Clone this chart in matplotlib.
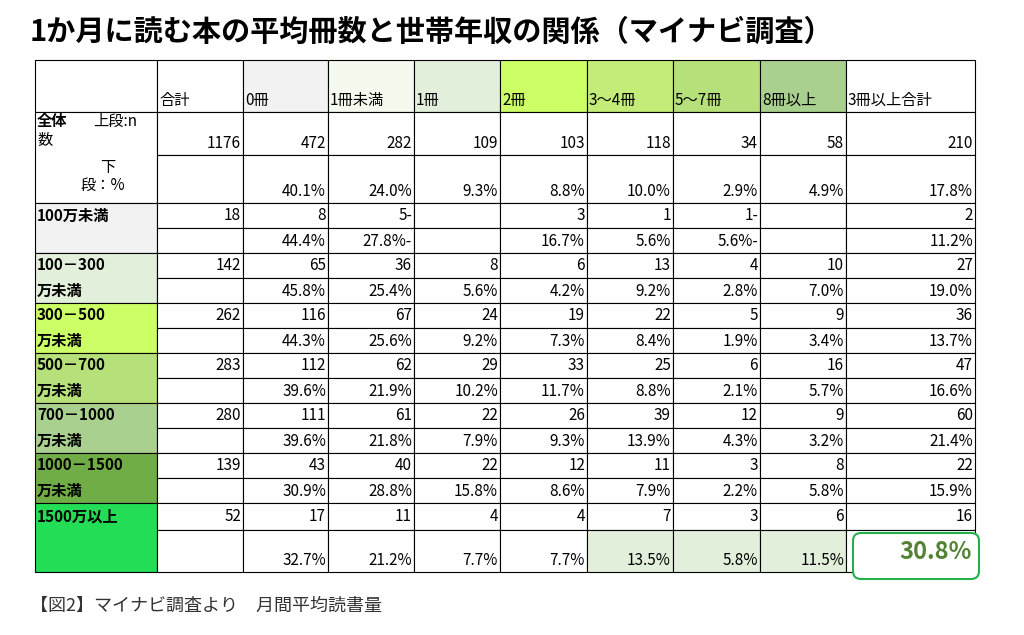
import matplotlib.pyplot as plt
from matplotlib.patches import Rectangle, FancyBboxPatch

plt.rcParams['font.family'] = 'Noto Sans CJK JP'

title = '1か月に読む本の平均冊数と世帯年収の関係（マイナビ調査）'
caption = '【図2】マイナビ調査より　月間平均読書量'
columns = ['合計', '0冊', '1冊未満', '1冊', '2冊', '3〜4冊', '5〜7冊', '8冊以上', '3冊以上合計']
groups = ['100万未満', '100－300\n万未満', '300－500\n万未満', '500－700\n万未満',
          '700－1000\n万未満', '1000－1500\n万未満', '1500万以上']
total_n = ['1176', '472', '282', '109', '103', '118', '34', '58', '210']
total_pct = ['', '40.1%', '24.0%', '9.3%', '8.8%', '10.0%', '2.9%', '4.9%', '17.8%']
counts = [
    ['18', '8', '5-', '', '3', '1', '1-', '', '2'],
    ['142', '65', '36', '8', '6', '13', '4', '10', '27'],
    ['262', '116', '67', '24', '19', '22', '5', '9', '36'],
    ['283', '112', '62', '29', '33', '25', '6', '16', '47'],
    ['280', '111', '61', '22', '26', '39', '12', '9', '60'],
    ['139', '43', '40', '22', '12', '11', '3', '8', '22'],
    ['52', '17', '11', '4', '4', '7', '3', '6', '16'],
]
pcts = [
    ['', '44.4%', '27.8%-', '', '16.7%', '5.6%', '5.6%-', '', '11.2%'],
    ['', '45.8%', '25.4%', '5.6%', '4.2%', '9.2%', '2.8%', '7.0%', '19.0%'],
    ['', '44.3%', '25.6%', '9.2%', '7.3%', '8.4%', '1.9%', '3.4%', '13.7%'],
    ['', '39.6%', '21.9%', '10.2%', '11.7%', '8.8%', '2.1%', '5.7%', '16.6%'],
    ['', '39.6%', '21.8%', '7.9%', '9.3%', '13.9%', '4.3%', '3.2%', '21.4%'],
    ['', '30.9%', '28.8%', '15.8%', '8.6%', '7.9%', '2.2%', '5.8%', '15.9%'],
    ['', '32.7%', '21.2%', '7.7%', '7.7%', '13.5%', '5.8%', '11.5%', '30.8%'],
]
header_colors = ['white', '#f2f2f2', '#f4faee', '#e2efda', '#ccff66', '#c4ec78', '#b6e07a', '#a9d08e', 'white']
group_colors = ['#f2f2f2', '#e2efda', '#ccff66', '#b6e07a', '#a9d08e', '#70ad47', '#22dd55']

fig = plt.figure(figsize=(10.24, 6.35), dpi=100)
ax = fig.add_axes([0, 0, 1, 1])
ax.set_xlim(0, 1024)
ax.set_ylim(635, 0)
ax.axis('off')

xs = [35, 157, 243, 328, 414, 500, 587, 673, 760, 846, 975]
ys = [60, 112, 155, 203, 228, 253, 278, 303, 328, 353, 378, 403, 428, 453, 478, 503, 530, 572]
fs = 11

def cell(x0, x1, y0, y1, color='white'):
    ax.add_patch(Rectangle((x0, y0), x1 - x0, y1 - y0, facecolor=color, edgecolor='black', lw=0.8))

ax.text(30, 32, title, fontsize=21, fontweight='bold', va='center')
ax.text(30, 606, caption, fontsize=13, va='center', color='#333333')

# header
cell(xs[0], xs[1], ys[0], ys[1])
for j, c in enumerate(columns):
    cell(xs[j + 1], xs[j + 2], ys[0], ys[1], header_colors[j])
    ax.text(xs[j + 1] + 2, ys[1] - 3, c, fontsize=fs, va='bottom')

# total rows
cell(xs[0], xs[1], ys[1], ys[3])
ax.text(xs[0] + 2, ys[1] + 1, '全体', fontsize=fs, va='top', fontweight='bold')
ax.text(xs[0] + 58, ys[1] + 1, '上段:n', fontsize=fs, va='top')
ax.text(xs[0] + 2, ys[1] + 20, '数', fontsize=fs, va='top')
ax.text(xs[0] + 65, ys[2] + 4, '下', fontsize=fs, va='top')
ax.text(xs[0] + 45, ys[2] + 22, '段：%', fontsize=fs, va='top')
for j in range(9):
    cell(xs[j + 1], xs[j + 2], ys[1], ys[2])
    cell(xs[j + 1], xs[j + 2], ys[2], ys[3])
    ax.text(xs[j + 2] - 2, ys[2] - 3, total_n[j], fontsize=fs, ha='right', va='bottom')
    ax.text(xs[j + 2] - 2, ys[3] - 3, total_pct[j], fontsize=fs, ha='right', va='bottom')

highlight = {(6, 5), (6, 6), (6, 7)}
for i, g in enumerate(groups):
    y0, y1, y2 = ys[3 + 2 * i], ys[4 + 2 * i], ys[5 + 2 * i]
    cell(xs[0], xs[1], y0, y2, group_colors[i])
    lines = g.split('\n')
    ax.text(xs[0] + 2, (y0 + y1) / 2, lines[0], fontsize=fs, fontweight='bold', va='center')
    if len(lines) > 1:
        ax.text(xs[0] + 2, (y1 + y2) / 2, lines[1], fontsize=fs, fontweight='bold', va='center')
    for j in range(9):
        col = '#e2efda' if (i, j) in highlight else 'white'
        cell(xs[j + 1], xs[j + 2], y0, y1)
        cell(xs[j + 1], xs[j + 2], y1, y2, col)
        ax.text(xs[j + 2] - 2, (y0 + y1) / 2, counts[i][j], fontsize=fs, ha='right', va='center')
        if i == 6 and j == 8:
            continue
        ax.text(xs[j + 2] - 2, y2 - 3, pcts[i][j], fontsize=fs, ha='right', va='bottom')

# highlighted final cell
ax.add_patch(FancyBboxPatch((853, 533), 126, 46, boxstyle='round,pad=0,rounding_size=8',
                            facecolor='white', edgecolor='#22b14c', lw=1.5))
ax.text(972, 552, pcts[6][8], fontsize=17, fontweight='bold', color='#548235', ha='right', va='center')

fig.savefig('out.png', dpi=100)
